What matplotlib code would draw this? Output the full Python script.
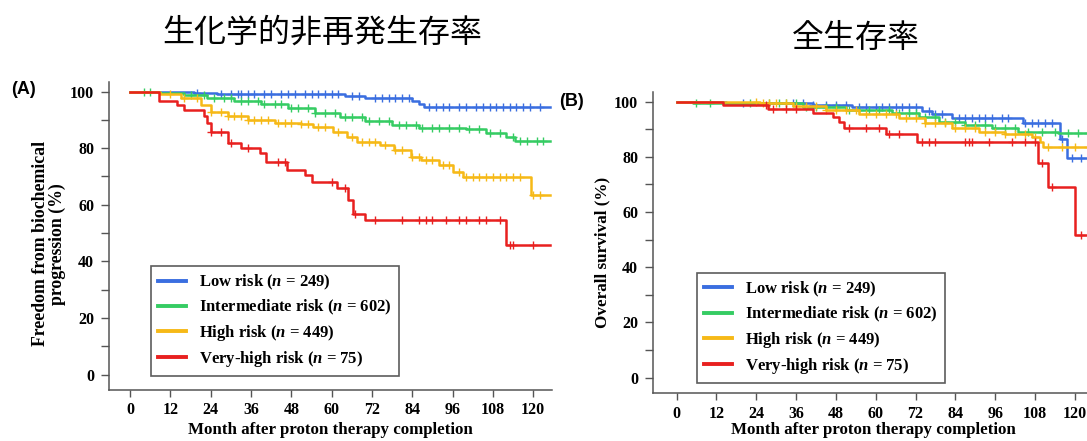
import numpy as np
import matplotlib
matplotlib.use("Agg")
import matplotlib.pyplot as plt

plt.rcParams['font.family'] = ['Liberation Serif', 'DejaVu Serif']
plt.rcParams['font.weight'] = 'bold'
plt.rcParams['mathtext.fontset'] = 'custom'
plt.rcParams['mathtext.it'] = 'Liberation Serif:italic:bold'
plt.rcParams['mathtext.rm'] = 'Liberation Serif:bold'

# ---------------- data ----------------
groups = ['Low risk', 'Intermediate risk', 'High risk', 'Very-high risk']
n_pat = [249, 602, 449, 75]
colors = ['#3a6ee0', '#35cc63', '#f6b917', '#e8201f']
end_month = 125

# (A) freedom from biochemical progression
a_low_t = [0, 19, 26, 64, 70, 84, 86, 87.5]
a_low_s = [100, 99.6, 99.2, 98.6, 97.8, 96.8, 95.6, 94.7]
a_low_c = [20, 27, 30, 32, 33, 35, 37, 40, 42, 45, 47, 49, 52, 54, 56, 58, 60, 62, 66, 68,
           73, 75, 77, 79, 81, 83, 89, 91, 93, 95, 98, 100, 103, 105, 107, 109, 111, 113,
           115, 117, 119, 122]

a_int_t = [0, 9, 16, 23, 31, 39, 47, 55, 62.5, 70, 78, 86, 100, 106, 112, 114.5]
a_int_s = [100, 99.6, 98.9, 97.7, 96.8, 95.6, 94.1, 92.3, 90.9, 89.7, 88.2, 87.0, 86.7,
           85.3, 84.1, 82.7]
a_int_c = [4, 6, 18, 22, 25, 28, 30, 33, 35, 38, 40, 43, 45, 48, 50, 53, 55, 58, 61, 64, 66,
           69, 71, 74, 77, 80, 82, 85, 87, 90, 92, 95, 98, 101, 104, 107, 110, 114, 116,
           118, 121, 123]

a_high_t = [0, 9, 15, 21, 24, 29, 35, 43, 51, 54.5, 60.5, 64.5, 67.5, 74.5, 78.5, 83.5,
            86.5, 92, 96, 99, 119.2]
a_high_s = [100, 99.2, 97.7, 95.3, 92.9, 91.2, 90.0, 89.0, 88.6, 87.6, 85.8, 84.1, 82.3,
            81.1, 79.3, 77.0, 75.8, 74.0, 71.7, 69.9, 63.4]
a_high_c = [12, 16, 20, 24, 27, 29, 31, 33, 35, 37, 39, 41, 44, 46, 48, 51, 53, 56, 58, 62,
            66, 69, 71, 73, 76, 79, 81, 84, 86, 88, 90, 93, 95, 98, 100, 102, 104, 106, 108,
            110, 112, 114, 116, 120, 122]

a_vh_t = [0, 8.7, 14, 16, 22, 23, 24, 29, 33, 38.7, 40.5, 46.6, 52, 54, 61.5, 65, 66.4, 70,
          112]
a_vh_s = [100, 96.8, 95.3, 93.5, 91.2, 88.8, 85.8, 81.7, 79.9, 78.2, 75.2, 72.3, 70.5, 68.1,
          65.8, 61.6, 56.9, 54.6, 45.7]
a_vh_c = [24, 27, 30, 35, 44, 46, 60, 64, 67, 73, 81, 86, 88, 90, 94, 98, 100, 104, 106,
          110, 113, 114, 120]

# (B) overall survival
b_low_t = [0, 15, 41, 53, 74, 77, 83, 104.5, 115.5, 117.5]
b_low_s = [100, 99.4, 98.8, 98.2, 96.7, 95.5, 94.0, 92.4, 86.4, 79.5]
b_low_c = [20, 35, 38, 41, 45, 48, 51, 55, 57, 60, 62, 64, 66, 68, 70, 72, 76, 78, 80, 85,
           87, 89, 91, 93, 95, 98, 100, 105, 107, 109, 111, 113, 116, 119, 122]

b_int_t = [0, 5, 38, 51, 65, 73, 79, 87, 95, 103, 115]
b_int_s = [100, 99.4, 98.2, 97.0, 95.9, 94.6, 92.8, 91.5, 90.3, 89.1, 88.5]
b_int_c = [6, 10, 22, 28, 31, 33, 36, 39, 42, 45, 48, 52, 55, 58, 61, 64, 67, 70, 72, 75,
           78, 81, 84, 87, 90, 93, 96, 99, 102, 106, 110, 114, 118, 121, 124]

b_high_t = [0, 25, 35, 45, 55, 67, 75, 83, 91, 99, 107, 109.5, 110.5]
b_high_s = [100, 99.4, 98.4, 97.0, 95.5, 94.0, 92.2, 90.3, 89.1, 88.3, 87.3, 85.5, 83.7]
b_high_c = [24, 26, 28, 30, 33, 36, 39, 42, 45, 48, 51, 54, 57, 60, 63, 66, 69, 72, 75, 78,
            81, 84, 87, 90, 93, 96, 99, 102, 105, 108, 112, 116, 120, 124]

b_vh_t = [0, 14, 27.5, 41, 47, 49, 50.5, 63, 72.3, 109, 112, 120]
b_vh_s = [100, 98.8, 97.2, 96.0, 94.6, 92.8, 90.3, 88.3, 85.5, 77.7, 69.2, 51.7]
b_vh_c = [27, 29, 33, 36, 52, 57, 61, 64, 67, 74, 76, 78, 87, 88, 89, 94, 101, 105, 108,
          110, 113, 122]

panel_a = [(a_low_t, a_low_s, a_low_c), (a_int_t, a_int_s, a_int_c),
           (a_high_t, a_high_s, a_high_c), (a_vh_t, a_vh_s, a_vh_c)]
panel_b = [(b_low_t, b_low_s, b_low_c), (b_int_t, b_int_s, b_int_c),
           (b_high_t, b_high_s, b_high_c), (b_vh_t, b_vh_s, b_vh_c)]

W, H = 1087, 441
fig = plt.figure(figsize=(W / 100, H / 100), dpi=100)
axA = fig.add_axes([109.3 / W, (H - 389.5) / H, 442.4 / W, 307.8 / H])
axB = fig.add_axes([653.3 / W, (H - 393.3) / H, 439.8 / W, 301.6 / H])


def km_panel(ax, curves, ylabel, ysize, xlim, ylim, xpad):
    for (t, s, c), col, g, n in zip(curves, colors, groups, n_pat):
        t = np.array(list(t) + [end_month])
        s = np.array(list(s) + [s[-1]])
        ax.step(t, s, where='post', color=col, lw=1.8,
                label=f'{g} ($n$ = {n})')
        c = np.array(c)
        idx = np.searchsorted(t, c, side='right') - 1
        ax.plot(c, s[idx], ls='none', marker='+', ms=6, mew=1.0, color=col)
    ax.set_xlim(*xlim)
    ax.set_ylim(*ylim)
    ax.set_xticks(np.arange(0, 121, 12))
    ax.set_yticks(np.arange(0, 101, 20))
    ax.set_yticks(np.arange(10, 100, 20), minor=True)
    for sp in ['top', 'right']:
        ax.spines[sp].set_visible(False)
    for sp in ['left', 'bottom']:
        ax.spines[sp].set_color('#555555')
        ax.spines[sp].set_linewidth(1.1)
    ax.tick_params(axis='both', which='both', direction='out', color='#555555',
                   width=1.0, labelsize=11.5)
    ax.tick_params(axis='y', which='both', length=6, pad=5)
    ax.tick_params(axis='x', length=5, pad=4)
    ax.set_xlabel('Month after proton therapy completion', fontsize=12.2,
                  fontweight='bold', labelpad=xpad)
    ax.set_ylabel(ylabel, fontsize=ysize, fontweight='bold', linespacing=1.0)
    leg = ax.legend(loc='upper left', fontsize=12, frameon=True, fancybox=False,
                    edgecolor='#333333', handlelength=1.7, handletextpad=0.8,
                    labelspacing=0.36, borderpad=0.4, borderaxespad=0)
    leg.get_frame().set_linewidth(1.2)
    for line in leg.get_lines():
        line.set_linewidth(2.8)
    return leg


legA = km_panel(axA, panel_a, 'Freedom from biochemical\nprogression (%)', 12.8,
                (-6.2, 125.5), (-5.3, 103.5), 3)
legA.set_bbox_to_anchor((0.094, 0.401), transform=axA.transAxes)
axA.yaxis.set_label_coords(-0.097, 0.473)

legB = km_panel(axB, panel_b, 'Overall survival (%)', 12.3, (-7, 125.5), (-5.7, 103.6), 0.5)
legB.set_bbox_to_anchor((0.099, 0.399), transform=axB.transAxes)
axB.yaxis.set_label_coords(-0.098, 0.467)

fig.text(24 / W, 1 - 90 / H, '(A)', ha='center', va='center', fontsize=13,
         fontweight='bold', family='Liberation Sans')
fig.text(572 / W, 1 - 102 / H, '(B)', ha='center', va='center', fontsize=13,
         fontweight='bold', family='Liberation Sans')
fig.text(322 / W, 1 - 33 / H, '生化学的非再発生存率', ha='center', va='center',
         fontsize=23, fontweight='normal', family=['Noto Sans CJK JP', 'DejaVu Sans'])
fig.text(856 / W, 1 - 38.5 / H, '全生存率', ha='center', va='center',
         fontsize=23, fontweight='normal', family=['Noto Sans CJK JP', 'DejaVu Sans'])

fig.savefig('out.png', dpi=100)
